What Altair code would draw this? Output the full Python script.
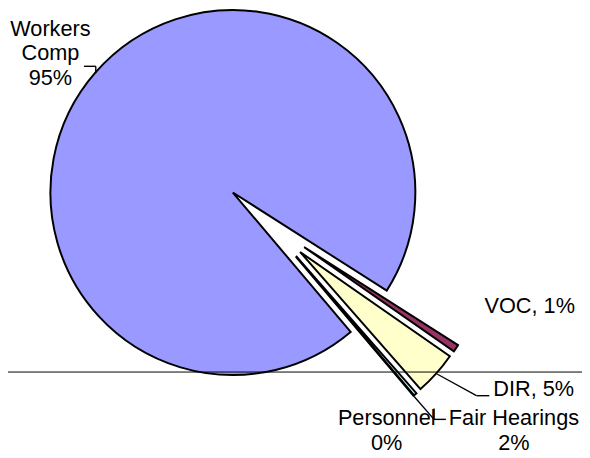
import altair as alt
import pandas as pd

# ---------------- data ----------------
categories = ["Workers Comp", "VOC", "DIR", "Fair Hearings", "Personnel"]
shares = [95.2, 0.65, 3.85, 0.28, 0.02]          # share of the pie as drawn
exploded = [0, 1, 1, 1, 1]                        # 1 = slice pulled out
label_text = ["Workers\nComp\n95%", "VOC, 1%", "DIR, 5%", "Fair Hearings\n2%", "Personnel\n0%"]
colors = ["#9999FF", "#993366", "#FFFFCC", "#CCFFFF", "#660066"]

# ---------------- layout (reference pixel coords) ----------------
M = 8                      # page margin
CX, CY, R = 236, 192, 185  # pie centre and radius
EXPLODE = 91               # explosion distance
SPREAD = 0.5               # how much each exploded slice follows its own bisector
START_DEG = 139.8          # first slice start angle (clockwise from 12 o'clock)
W, H = 582, 446

label_x = [51, 537, 541, 521, 392]
label_y = [33, 314, 398, 428, 428]

leader_x = [85, 97, 443, 483, 420, 440, 440]
leader_y = [64, 64, 376, 398, 399, 422, 411]
leader_x2 = [97, 97, 483, 496, 440, 452, 440]
leader_y2 = [64, 71, 398, 398, 422, 422, 422]

df = pd.DataFrame({
    "category": categories,
    "share": shares,
    "exploded": exploded,
    "order": list(range(len(categories))),
})

start = START_DEG * 3.141592653589793 / 180

arcs = alt.Chart(df).transform_window(
    cum="sum(share)", sort=[alt.SortField("order")], frame=[None, 0]
).transform_joinaggregate(
    total="sum(share)"
).transform_calculate(
    t1=f"{start} + 2*PI*datum.cum/datum.total",
    t0=f"{start} + 2*PI*(datum.cum - datum.share)/datum.total",
).transform_calculate(
    mid="(datum.t0 + datum.t1)/2",
    tlo="datum.exploded ? datum.t0 : 1e9",
    thi="datum.exploded ? datum.t1 : -1e9",
).transform_joinaggregate(
    glo="min(tlo)", ghi="max(thi)"
).transform_calculate(
    edir=f"{SPREAD}*datum.mid + (1-{SPREAD})*(datum.glo + datum.ghi)/2"
).transform_calculate(
    cx=f"{CX - M} + datum.exploded*{EXPLODE}*sin(datum.edir)",
    cy=f"{CY - M} - datum.exploded*{EXPLODE}*cos(datum.edir)",
).mark_arc(radius=R, stroke="black", strokeWidth=2, strokeJoin="miter").encode(
    theta=alt.Theta("t0:Q", scale=None),
    theta2=alt.Theta2("t1:Q"),
    x=alt.X("cx:Q", scale=None, axis=None),
    y=alt.Y("cy:Q", scale=None, axis=None),
    color=alt.Color("category:N", scale=alt.Scale(domain=categories, range=colors), legend=None),
    order=alt.Order("order:Q"),
)

ldf = pd.DataFrame({
    "x": [v - M for v in leader_x],
    "y": [v - M for v in leader_y],
    "x2": [v - M for v in leader_x2],
    "y2": [v - M for v in leader_y2],
})
leaders = alt.Chart(ldf).mark_rule(color="black", strokeWidth=1.4).encode(
    x=alt.X("x:Q", scale=None, axis=None),
    y=alt.Y("y:Q", scale=None, axis=None),
    x2="x2:Q",
    y2="y2:Q",
)

hline = alt.Chart(pd.DataFrame({"y": [374 - M]})).mark_rule(color="black", strokeWidth=1).encode(
    x=alt.value(0), x2=alt.value(W), y=alt.Y("y:Q", scale=None, axis=None)
)

tdf = pd.DataFrame({
    "label": label_text,
    "x": [v - M for v in label_x],
    "y": [v - M for v in label_y],
})
texts = alt.Chart(tdf).mark_text(
    font="Liberation Sans", fontSize=22, lineHeight=25, lineBreak="\n",
    align="center", baseline="alphabetic", color="black"
).encode(
    x=alt.X("x:Q", scale=None, axis=None),
    y=alt.Y("y:Q", scale=None, axis=None),
    text="label:N",
)

chart = alt.layer(arcs, leaders, hline, texts).properties(
    width=W, height=H, padding=0, autosize="none", background="white"
).configure_view(stroke=None)

chart.save("out.html", embed_options={"renderer": "svg", "actions": False})
